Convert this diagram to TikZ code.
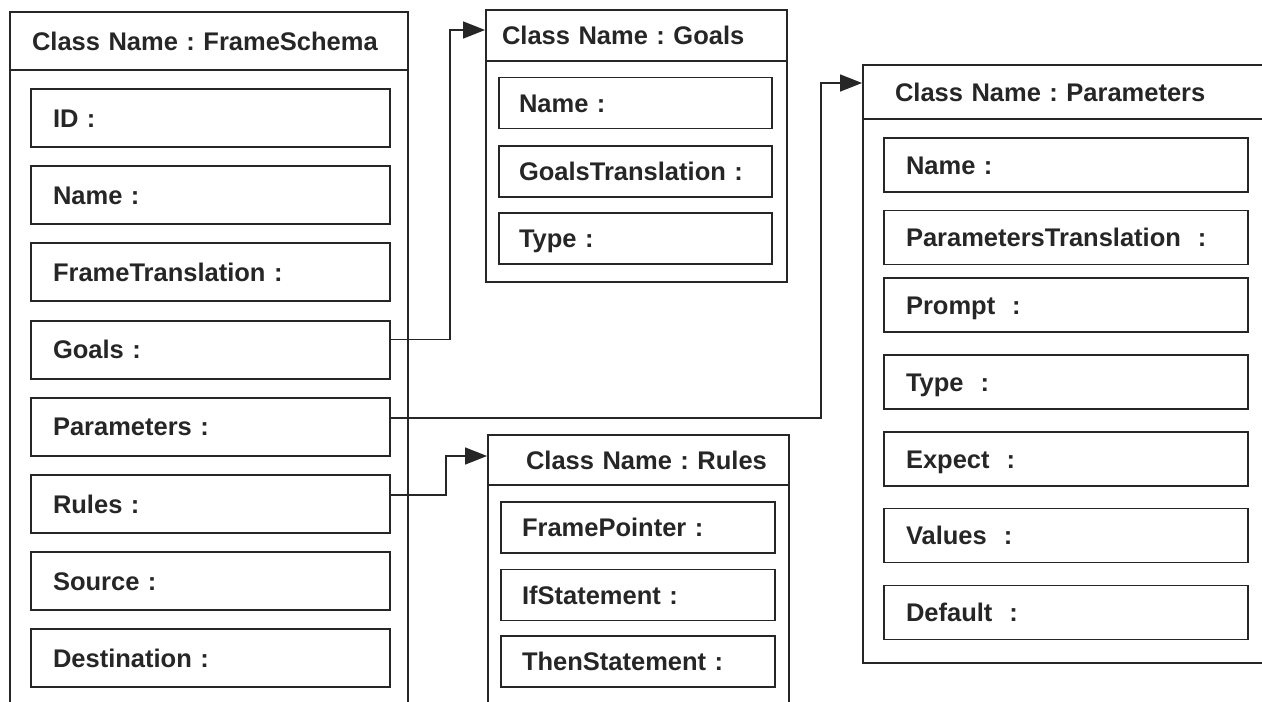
\documentclass[tikz,border=0pt]{standalone}
\usepackage{fontspec}
\setmainfont{Liberation Sans}
\usetikzlibrary{arrows.meta}
\frenchspacing
\definecolor{ink}{HTML}{262626}
\tikzset{
  frame/.style={draw=ink, line width=1.9pt, rectangle, inner sep=0pt},
  classhead/.style={frame, text=ink, align=left, text height=18pt, text depth=0pt,
    font=\fontsize{25.5}{30}\selectfont\bfseries},
  field/.style={frame, text=ink, align=left, text height=18pt, text depth=0pt,
    font=\fontsize{25.5}{30}\selectfont\bfseries},
  link/.style={draw=ink, line width=1.5pt, -{Triangle[length=22pt,width=17pt]}}
}
\begin{document}
\begin{tikzpicture}[x=1pt, y=-1pt]
\clip (0,0) rectangle (1262,702);

% ---- class FrameSchema ----
\node[classhead, minimum width=398pt, minimum height=58pt, inner xsep=22pt, text width=354pt]
  (fsh) at (209,41) {\mbox{Class Name : FrameSchema}};
\node[frame, minimum width=398pt, minimum height=660pt] (fsb) at (209,400) {};
\foreach \nm/\txt/\yc in {fsID/ID :/118, fsName/Name :/195.2,
    fsTrans/FrameTranslation :/272.4, fsGoals/Goals :/349.6,
    fsParams/Parameters :/426.8, fsRules/Rules :/504,
    fsSource/Source :/581.2, fsDest/Destination :/658.4}
  \node[field, minimum width=359pt, minimum height=58pt, inner xsep=22pt, text width=315pt]
    (\nm) at (210.5,\yc) {\txt};

% ---- class Goals ----
\node[classhead, minimum width=301pt, minimum height=51pt, inner xsep=16pt, text width=269pt]
  (gh) at (636.5,35.5) {\mbox{Class Name : Goals}};
\node[frame, minimum width=301pt, minimum height=221pt] (gb) at (636.5,171.5) {};
\foreach \nm/\txt/\yc in {gName/Name :/103, gTrans/GoalsTranslation :/171.5, gType/Type :/238.5}
  \node[field, minimum width=273pt, minimum height=51pt, inner xsep=20pt, text width=233pt]
    (\nm) at (635.5,\yc) {\txt};

% ---- class Parameters ----
\node[classhead, minimum width=420pt, minimum height=54pt, inner xsep=32pt, text width=356pt]
  (ph) at (1073,92) {\mbox{Class Name : Parameters}};
\node[frame, minimum width=420pt, minimum height=544pt] (pb) at (1073,391) {};
\foreach \nm/\txt/\yc in {pName/Name :/165, pTrans/ParametersTranslation~~:/237.5,
    pPrompt/Prompt~~:/305, pType/Type~~:/382, pExpect/Expect~~:/459,
    pValues/Values~~:/535.5, pDefault/Default~~:/612.5}
  \node[field, minimum width=364pt, minimum height=54pt, inner xsep=22pt, text width=320pt]
    (\nm) at (1066,\yc) {\txt};

% ---- class Rules ----
\node[classhead, minimum width=301pt, minimum height=50pt, inner xsep=38pt, text width=225pt]
  (rh) at (638.5,460) {\mbox{Class Name : Rules}};
\node[frame, minimum width=301pt, minimum height=240pt] (rb) at (638.5,605) {};
\foreach \nm/\txt/\yc in {rPointer/FramePointer :/527.5, rIf/IfStatement :/595,
    rThen/ThenStatement :/661.5}
  \node[field, minimum width=274pt, minimum height=51pt, inner xsep=21pt, text width=232pt]
    (\nm) at (638,\yc) {\txt};

% ---- references between classes ----
\draw[link] ([yshift=10pt]fsGoals.east) -| ([xshift=-35pt,yshift=5.5pt]gh.west)
  -- ([yshift=5.5pt]gh.west);
\draw[link] ([yshift=9pt]fsParams.east) -| ([xshift=-41pt,yshift=9pt]ph.west)
  -- ([yshift=9pt]ph.west);
\draw[link] ([yshift=9pt]fsRules.east) -| ([xshift=-41pt,yshift=4pt]rh.west)
  -- ([yshift=4pt]rh.west);
\end{tikzpicture}
\end{document}
